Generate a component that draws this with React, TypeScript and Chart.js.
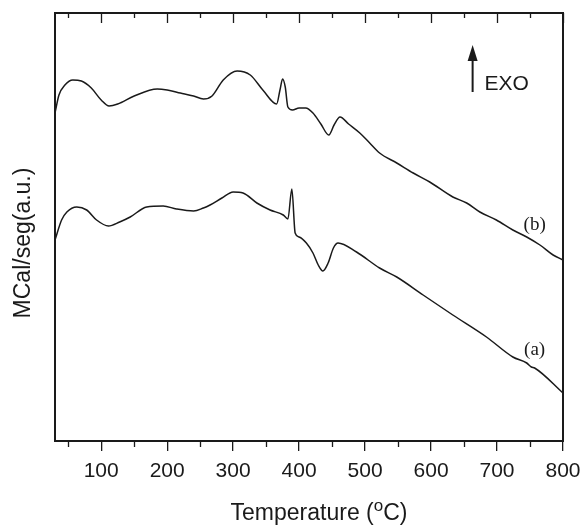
import React, { useEffect, useRef } from 'react';
import { Chart, registerables } from 'chart.js';

Chart.register(...registerables);

// Curve (b) – upper trace
const TEMP_B = [30, 36, 45, 57, 70, 85, 100, 112, 125, 150, 185, 200, 220, 240, 255, 268, 285, 306, 326, 345, 366, 371, 375, 379, 383, 390, 400, 410, 421, 433, 445, 453, 462, 475, 492, 507, 522, 548, 573, 598, 633, 654, 674, 699, 724, 745, 765, 785, 800];
const SIGNAL_B = [328, 346, 356, 361, 360, 353, 341, 335, 337, 345, 352, 351, 348, 345, 342, 345, 361, 370, 366, 351, 337, 351, 362, 354, 334, 331, 333, 333, 328, 317, 306, 316, 324, 317, 308, 298, 288, 278, 268, 259, 244, 238, 229, 221, 211, 204, 196, 186, 181];

// Curve (a) – lower trace
const TEMP_A = [30, 40, 48, 63, 78, 93, 111, 128, 144, 169, 194, 214, 240, 255, 265, 283, 300, 315, 336, 356, 376, 383, 389, 394, 400, 411, 421, 429, 436, 444, 452, 459, 487, 522, 548, 588, 633, 684, 724, 745, 752, 757, 800];
const SIGNAL_A = [201, 221, 229, 234, 231, 221, 215, 219, 224, 234, 235, 232, 230, 233, 236, 243, 249, 248, 238, 231, 226, 222, 252, 208, 204, 198, 188, 176, 170, 178, 193, 198, 189, 173, 164, 146, 126, 104, 84, 78, 74, 73, 48];

const X_MAJOR_TICKS = [100, 200, 300, 400, 500, 600, 700, 800];
const X_MINOR_TICKS = [50, 150, 250, 350, 450, 550, 650, 750];
const X_MIN = 30;
const X_MAX = 800;
const Y_MIN = 0;
const Y_MAX = 428;

const X_TITLE_MAIN = 'Temperature (';
const X_TITLE_SUP = 'o';
const X_TITLE_END = 'C)';
const Y_TITLE = 'MCal/seg(a.u.)';
const EXO_LABEL = 'EXO';
const CURVE_LABELS = ['(a)', '(b)'];

const SANS = '"Liberation Sans", Arial, Helvetica, sans-serif';
const SERIF = '"Liberation Serif", "Times New Roman", serif';
const INK = '#1a1a1a';

const decorPlugin = {
  id: 'decor',
  afterDraw(chart: any) {
    const { ctx, chartArea } = chart;
    const xs = chart.scales.x;
    const ys = chart.scales.y;
    const { left, right, top, bottom } = chartArea;
    ctx.save();
    ctx.strokeStyle = INK;
    ctx.fillStyle = INK;

    // top & right frame
    ctx.lineWidth = 2;
    ctx.beginPath();
    ctx.moveTo(left - 1, top);
    ctx.lineTo(right + 1, top);
    ctx.moveTo(right, top);
    ctx.lineTo(right, bottom + 1);
    ctx.stroke();

    // top inward ticks + bottom minor ticks
    ctx.lineWidth = 1.3;
    ctx.beginPath();
    X_MAJOR_TICKS.forEach((v) => {
      const px = Math.round(xs.getPixelForValue(v)) + 0.5;
      ctx.moveTo(px, top);
      ctx.lineTo(px, top + 10);
    });
    X_MINOR_TICKS.forEach((v) => {
      const px = Math.round(xs.getPixelForValue(v)) + 0.5;
      ctx.moveTo(px, top);
      ctx.lineTo(px, top + 5);
      ctx.moveTo(px, bottom);
      ctx.lineTo(px, bottom + 6);
    });
    ctx.stroke();

    // y title
    ctx.save();
    ctx.translate(24, 243);
    ctx.rotate(-Math.PI / 2);
    ctx.font = `23px ${SANS}`;
    ctx.textAlign = 'center';
    ctx.textBaseline = 'middle';
    ctx.fillText(Y_TITLE, 0, 0);
    ctx.restore();

    // x title with superscript o
    ctx.textBaseline = 'alphabetic';
    ctx.textAlign = 'left';
    const mainFont = `23px ${SANS}`;
    const supFont = `17px ${SANS}`;
    ctx.font = mainFont;
    const w1 = ctx.measureText(X_TITLE_MAIN).width;
    const w3 = ctx.measureText(X_TITLE_END).width;
    ctx.font = supFont;
    const w2 = ctx.measureText(X_TITLE_SUP).width;
    const total = w1 + w2 + w3;
    let sx = 319 - total / 2;
    const baseY = 520;
    ctx.font = mainFont;
    ctx.fillText(X_TITLE_MAIN, sx, baseY);
    sx += w1;
    ctx.font = supFont;
    ctx.fillText(X_TITLE_SUP, sx, baseY - 9);
    sx += w2;
    ctx.font = mainFont;
    ctx.fillText(X_TITLE_END, sx, baseY);

    // EXO arrow
    const ax = xs.getPixelForValue(663);
    const aTop = ys.getPixelForValue(396);
    const aBot = ys.getPixelForValue(349);
    ctx.lineWidth = 2;
    ctx.beginPath();
    ctx.moveTo(ax, aBot);
    ctx.lineTo(ax, aTop + 10);
    ctx.stroke();
    ctx.beginPath();
    ctx.moveTo(ax, aTop);
    ctx.lineTo(ax - 5, aTop + 16);
    ctx.lineTo(ax + 5, aTop + 16);
    ctx.closePath();
    ctx.fill();
    ctx.font = `21px ${SANS}`;
    ctx.textBaseline = 'middle';
    ctx.textAlign = 'left';
    ctx.fillText(EXO_LABEL, xs.getPixelForValue(681), ys.getPixelForValue(357));

    // curve labels
    ctx.font = `19px ${SERIF}`;
    ctx.textAlign = 'center';
    ctx.fillText(CURVE_LABELS[0], xs.getPixelForValue(757), ys.getPixelForValue(91));
    ctx.fillText(CURVE_LABELS[1], xs.getPixelForValue(757), ys.getPixelForValue(216));
    ctx.restore();
  },
};

export default function App() {
  const ref = useRef<HTMLCanvasElement>(null);

  useEffect(() => {
    if (!ref.current) return;
    const chart = new Chart(ref.current, {
      type: 'line',
      data: {
        datasets: [
          {
            label: '(b)',
            data: TEMP_B.map((t, i) => ({ x: t, y: SIGNAL_B[i] })),
            borderColor: INK,
            borderWidth: 1.5,
            pointRadius: 0,
            cubicInterpolationMode: 'monotone',
            fill: false,
          },
          {
            label: '(a)',
            data: TEMP_A.map((t, i) => ({ x: t, y: SIGNAL_A[i] })),
            borderColor: INK,
            borderWidth: 1.5,
            pointRadius: 0,
            cubicInterpolationMode: 'monotone',
            fill: false,
          },
        ],
      },
      options: {
        responsive: false,
        animation: false,
        events: [],
        layout: { padding: { top: 13, right: 18, left: 0, bottom: 0 } },
        plugins: { legend: { display: false }, tooltip: { enabled: false } },
        scales: {
          x: {
            type: 'linear',
            min: X_MIN,
            max: X_MAX,
            afterBuildTicks: (scale: any) => {
              scale.ticks = X_MAJOR_TICKS.map((v) => ({ value: v }));
            },
            afterFit: (scale: any) => {
              scale.height = 85;
              scale.paddingLeft = 0;
              scale.paddingRight = 0;
            },
            ticks: {
              autoSkip: false,
              maxRotation: 0,
              padding: 8,
              color: INK,
              font: { family: SANS, size: 21 },
              callback: (v: any) => String(v),
            },
            grid: {
              display: true,
              drawOnChartArea: false,
              drawTicks: true,
              tickLength: 10,
              color: INK,
              lineWidth: 1.3,
            },
            border: { display: true, color: INK, width: 2 },
          },
          y: {
            type: 'linear',
            min: Y_MIN,
            max: Y_MAX,
            afterFit: (scale: any) => {
              scale.width = 55;
              scale.paddingTop = 0;
              scale.paddingBottom = 0;
            },
            ticks: { display: false },
            grid: { display: false, drawTicks: false },
            border: { display: true, color: INK, width: 2 },
          },
        },
      },
      plugins: [decorPlugin],
    });
    return () => chart.destroy();
  }, []);

  return (
    <div style={{ position: 'fixed', left: 0, top: 0, width: 581, height: 526, background: '#fff' }}>
      <canvas ref={ref} width={581} height={526} style={{ display: 'block' }} />
    </div>
  );
}
